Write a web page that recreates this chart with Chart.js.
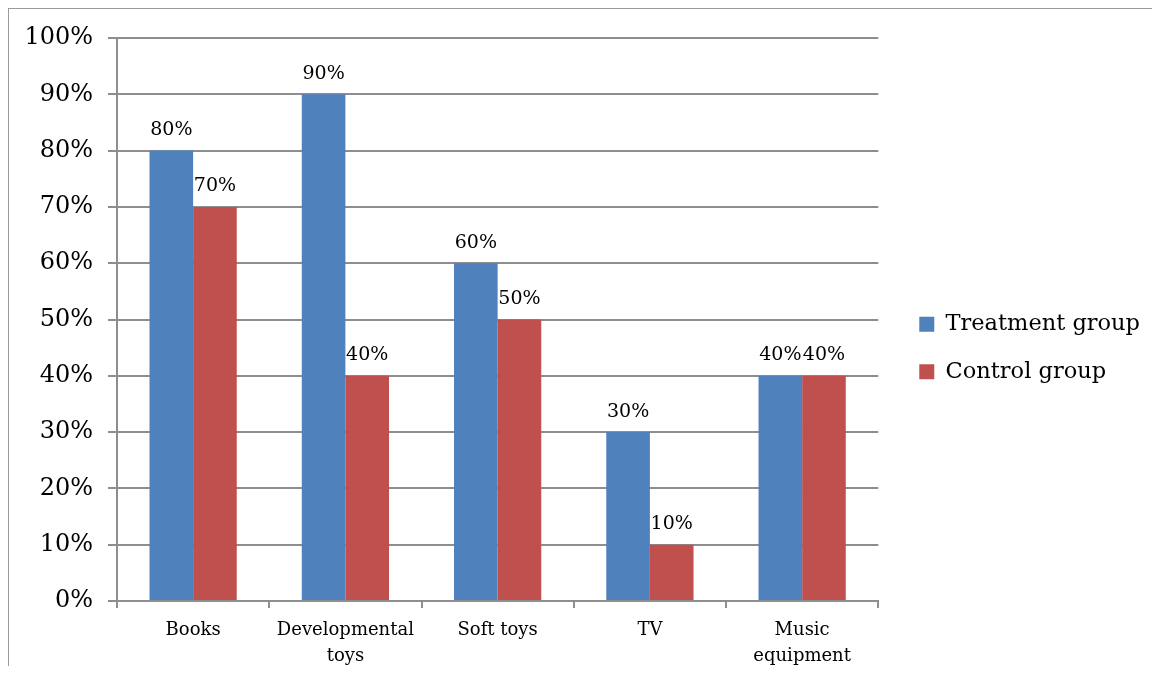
<!DOCTYPE html>
<html>
<head>
<meta charset="utf-8">
<script src="https://cdn.jsdelivr.net/npm/chart.js@4"></script>
<style>
  html, body { margin: 0; padding: 0; background: #fff; }
  #wrap { position: relative; width: 1152px; height: 674px; overflow: hidden; }
  #frame { position: absolute; left: 8px; top: 8px; width: 1160px; height: 657px;
           border-top: 1.5px solid #9a9a9a; border-left: 1.5px solid #9a9a9a; pointer-events: none; }
</style>
</head>
<body>
<div id="wrap">
  <canvas id="c" width="1152" height="674"></canvas>
  <div id="frame"></div>
</div>
<script>
const categories = [["Books"], ["Developmental", "toys"], ["Soft toys"], ["TV"], ["Music", "equipment"]];
const treatmentValues = [80, 90, 60, 30, 40];
const controlValues = [70, 40, 50, 10, 40];
const seriesNames = ["Treatment group", "Control group"];
const yTicks = [0, 10, 20, 30, 40, 50, 60, 70, 80, 90, 100];

const serif = "'DejaVu Serif', serif";
const gridColor = "#8e8e8e";

const valueLabels = {
  id: "valueLabels",
  afterDatasetsDraw(chart) {
    const ctx = chart.ctx;
    ctx.save();
    ctx.font = "19px " + serif;
    ctx.fillStyle = "#000";
    ctx.textAlign = "center";
    ctx.textBaseline = "bottom";
    chart.data.datasets.forEach((ds, i) => {
      const meta = chart.getDatasetMeta(i);
      meta.data.forEach((el, j) => {
        ctx.fillText(ds.data[j] + "%", el.x, el.y - 11);
      });
    });
    ctx.restore();
  }
};

const legendShift = {
  id: "legendShift",
  afterLayout(chart) {
    const lg = chart.legend;
    if (!lg) return;
    lg.left += 16; lg.right += 16;
    lg.top -= 8; lg.bottom -= 8;
  }
};

new Chart(document.getElementById("c"), {
  type: "bar",
  data: {
    labels: categories,
    datasets: [
      { label: seriesNames[0], data: treatmentValues, backgroundColor: "#4F81BD",
        categoryPercentage: 0.573, barPercentage: 1.0 },
      { label: seriesNames[1], data: controlValues, backgroundColor: "#C0504D",
        categoryPercentage: 0.573, barPercentage: 1.0 }
    ]
  },
  options: {
    responsive: false,
    animation: false,
    devicePixelRatio: 1,
    layout: { padding: { top: 38, right: 18, bottom: 0, left: 0 } },
    plugins: {
      tooltip: { enabled: false },
      legend: {
        position: "right",
        align: "center",
        labels: {
          boxWidth: 15, boxHeight: 15, padding: 25,
          color: "#000",
          font: { family: serif, size: 22.5 }
        }
      }
    },
    scales: {
      x: {
        grid: { display: true, drawOnChartArea: false, drawTicks: true, tickLength: 7, offset: true, color: gridColor, lineWidth: 2 },
        border: { display: true, color: gridColor, width: 2 },
        ticks: { color: "#000", font: { family: serif, size: 18, lineHeight: 1.45 }, padding: 9, maxRotation: 0, autoSkip: false },
        afterFit(scale) { scale.height = 73; }
      },
      y: {
        min: 0, max: 100,
        afterBuildTicks(scale) { scale.ticks = yTicks.map(v => ({ value: v })); },
        grid: { color: gridColor, tickLength: 9, lineWidth: 2 },
        border: { display: true, color: gridColor, width: 2 },
        ticks: { color: "#000", font: { family: serif, size: 24 }, padding: 15, callback: v => v + "%" },
        afterFit(scale) { scale.width = 117; }
      }
    }
  },
  plugins: [valueLabels, legendShift]
});
</script>
</body>
</html>
